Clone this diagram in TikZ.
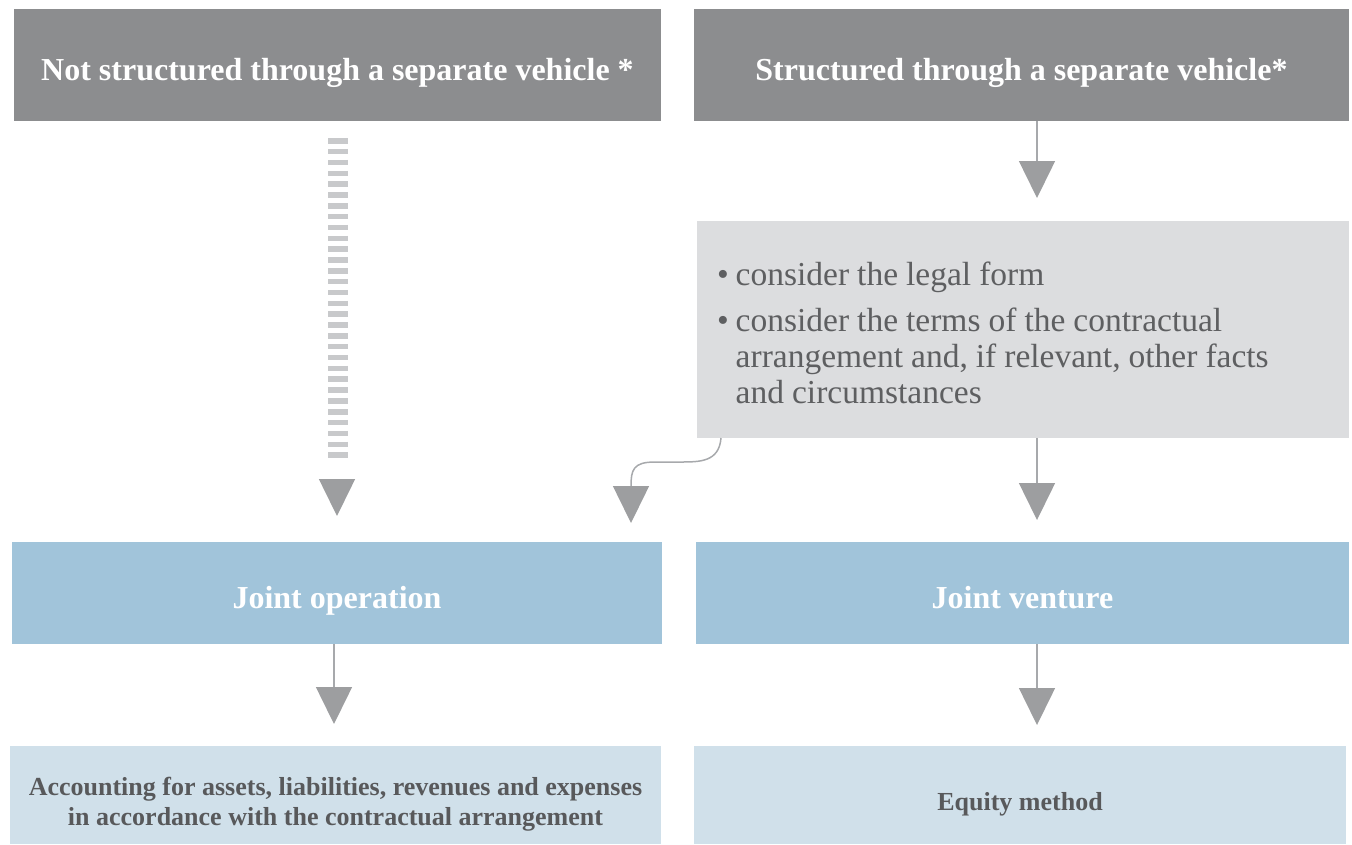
\documentclass[tikz,border=0pt]{standalone}
\usepackage{fontspec}
\setmainfont{Liberation Serif}
\usetikzlibrary{arrows.meta,calc}
\definecolor{hdrgray}{HTML}{8C8D8F}
\definecolor{notegray}{HTML}{DCDDDF}
\definecolor{midblue}{HTML}{A1C4DA}
\definecolor{paleblue}{HTML}{D0E0EA}
\definecolor{dashgray}{HTML}{C8C9CB}
\definecolor{linegray}{HTML}{A7A9AC}
\definecolor{tipgray}{HTML}{9D9EA0}
\definecolor{darktext}{HTML}{58595B}
\definecolor{notetext}{HTML}{5E5F61}
\newcommand{\bul}{\textbullet\hspace{7pt}}
\tikzset{
  anybox/.style={rectangle, inner sep=0pt, outer sep=0pt, draw=none, align=center},
  topbox/.style={anybox, fill=hdrgray, text=white, minimum height=112pt,
    text height=39pt, text depth=8pt,
    font=\fontsize{32}{36}\selectfont\bfseries},
  notebox/.style={anybox, fill=notegray, text=notetext, minimum height=217pt,
    inner xsep=20pt, text width=612pt, align=left,
    font=\fontsize{33.5}{36}\selectfont},
  bluebox/.style={anybox, fill=midblue, text=white, minimum height=102pt,
    text height=39pt, text depth=8pt,
    font=\fontsize{32}{36}\selectfont\bfseries},
  palebox/.style={anybox, fill=paleblue, text=darktext, minimum height=98pt,
    font=\fontsize{26}{30}\selectfont\bfseries},
  arr/.style={draw=linegray, line width=1.5pt,
    -{Triangle[width=36pt,length=37pt,fill=tipgray,color=tipgray]}},
  dashline/.style={draw=dashgray, line width=20pt, dash pattern=on 5.5pt off 5.34pt}
}
\begin{document}
\begin{tikzpicture}[x=1pt,y=-1pt]
\useasboundingbox (0,0) rectangle (1352,844);
% boxes
\node[topbox, minimum width=647pt] (tl) at (337.5,65) {Not structured through a separate vehicle *};
\node[topbox, minimum width=655pt] (tr) at (1021.5,65) {Structured through a separate vehicle*};
\node[notebox] (gb) at (1023,329.5) {\spaceskip=8pt plus 3pt minus 1pt\relax
\rule{0pt}{31pt}\bul consider the legal form\\[10pt]
\bul consider the terms of the contractual\\
\hphantom{\bul}arrangement and, if relevant, other facts\\
\hphantom{\bul}and circumstances};
\node[bluebox, minimum width=650pt] (jo) at (337,593) {Joint operation};
\node[bluebox, minimum width=653pt] (jv) at (1022.5,593) {Joint venture};
\node[palebox, minimum width=651pt] (ab) at (335.5,795) {\rule{0pt}{36pt}Accounting for assets, liabilities, revenues and expenses\\in accordance with the contractual arrangement};
\node[palebox, minimum width=652pt, text height=36pt, text depth=6pt] (em) at (1020,795) {Equity method};
% guide coordinates
\coordinate (xr) at (1037,0);
\coordinate (xl) at (334,0);
\coordinate (xd) at (338,0);
\coordinate (cs) at (721,0);
% connectors
\draw[dashline] ([yshift=-17pt]tl.south -| xd) -- ([yshift=84pt]jo.north -| xd);
\draw[arr] ([yshift=63pt]jo.north) -- ([yshift=26pt]jo.north);
\draw[arr, shorten >=23pt] (tr.south -| xr) -- (gb.north -| xr);
\draw[arr, shorten >=22pt] (gb.south -| xr) -- (jv.north -| xr);
\draw[arr, shorten >=22pt] (jo.south -| xl) -- (ab.north -| xl);
\draw[arr, shorten >=21pt] (jv.south -| xr) -- (em.north -| xr);
\draw[arr] (gb.south -| cs) .. controls (719,462) and (700,462) .. (680,462)
  -- (655,462) .. controls (633,462) and (631,470) .. (631,523);
\end{tikzpicture}
\end{document}
